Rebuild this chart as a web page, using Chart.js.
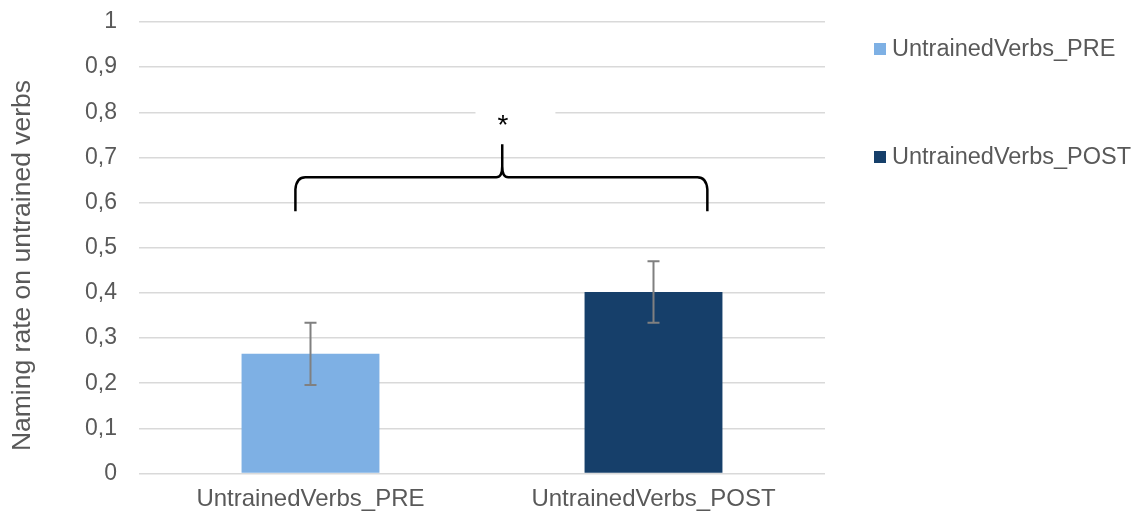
<!DOCTYPE html>
<html>
<head>
<meta charset="utf-8">
<script src="https://cdn.jsdelivr.net/npm/chart.js@4"></script>
<style>
  html, body { margin: 0; padding: 0; background: #fff; }
  #wrap { width: 1148px; height: 515px; }
</style>
</head>
<body>
<div id="wrap"><canvas id="chart"></canvas></div>
<script>
const categories = ["UntrainedVerbs_PRE", "UntrainedVerbs_POST"];
const values = [0.265, 0.402];
const errors = [0.069, 0.068];
const barColors = ["#7EB0E4", "#163F6A"];
const yTicks = [0, 0.1, 0.2, 0.3, 0.4, 0.5, 0.6, 0.7, 0.8, 0.9, 1];
const yTitle = "Naming rate on untrained verbs";

const FONT = "'Liberation Sans', Arial, sans-serif";
const TEXT = "#595959";

function formatTick(v) {
  return String(Math.round(v * 10) / 10).replace(".", ",");
}

// axis title, error bars, significance brace and the legend on the right
const extras = {
  id: "extras",
  beforeDatasetsDraw(chart) {
    const { ctx, scales: { x, y } } = chart;
    // white box behind the asterisk hides the gridlines
    const x0 = x.getPixelForValue(0.481);
    const x1 = x.getPixelForValue(0.714);
    const y0 = y.getPixelForValue(0.898);
    const y1 = y.getPixelForValue(0.716);
    ctx.save();
    ctx.fillStyle = "#fff";
    ctx.fillRect(x0, y0, x1 - x0, y1 - y0);
    ctx.restore();
  },
  afterDatasetsDraw(chart) {
    const { ctx, scales: { x, y } } = chart;
    ctx.save();

    // y axis title (sits a bit below the middle of the axis)
    ctx.save();
    ctx.translate(23, 265.5);
    ctx.rotate(-Math.PI / 2);
    ctx.font = "26.5px " + FONT;
    ctx.fillStyle = TEXT;
    ctx.textAlign = "center";
    ctx.textBaseline = "middle";
    ctx.fillText(yTitle, 0, 0);
    ctx.restore();

    // error bars
    ctx.strokeStyle = "#808080";
    ctx.lineWidth = 2;
    values.forEach((v, i) => {
      const px = x.getPixelForValue(i);
      const top = y.getPixelForValue(v + errors[i]);
      const bot = y.getPixelForValue(v - errors[i]);
      ctx.beginPath();
      ctx.moveTo(px, top);
      ctx.lineTo(px, bot);
      ctx.moveTo(px - 6, top);
      ctx.lineTo(px + 6, top);
      ctx.moveTo(px - 6, bot);
      ctx.lineTo(px + 6, bot);
      ctx.stroke();
    });

    // curly brace
    const xL = x.getPixelForValue(-0.044);
    const xR = x.getPixelForValue(1.157);
    const xC = x.getPixelForValue(0.559);
    const yBot = y.getPixelForValue(0.581);
    const yH = y.getPixelForValue(0.656);
    const yPeak = y.getPixelForValue(0.729);
    ctx.strokeStyle = "#000";
    ctx.lineWidth = 2.5;
    ctx.lineJoin = "round";
    ctx.beginPath();
    ctx.moveTo(xL, yBot);
    ctx.lineTo(xL, yH + 12);
    ctx.quadraticCurveTo(xL + 1, yH, xL + 10, yH);
    ctx.lineTo(xC - 6, yH);
    ctx.quadraticCurveTo(xC, yH, xC, yH - 11);
    ctx.lineTo(xC, yPeak);
    ctx.moveTo(xC, yH - 11);
    ctx.quadraticCurveTo(xC, yH, xC + 6, yH);
    ctx.lineTo(xR - 10, yH);
    ctx.quadraticCurveTo(xR - 1, yH, xR, yH + 12);
    ctx.lineTo(xR, yBot);
    ctx.stroke();

    // asterisk
    ctx.fillStyle = "#000";
    ctx.font = "28px " + FONT;
    ctx.textAlign = "center";
    ctx.textBaseline = "alphabetic";
    ctx.fillText("*", x.getPixelForValue(0.561), y.getPixelForValue(0.752));

    // legend
    ctx.font = "23.5px " + FONT;
    ctx.textAlign = "left";
    ctx.textBaseline = "middle";
    const legendY = [49, 157];
    categories.forEach((c, i) => {
      ctx.fillStyle = barColors[i];
      ctx.fillRect(874, legendY[i] - 6, 12, 12);
      ctx.fillStyle = TEXT;
      ctx.fillText(c, 892, legendY[i] + 1);
    });

    ctx.restore();
  },
};

new Chart(document.getElementById("chart"), {
  type: "bar",
  data: {
    labels: categories,
    datasets: [
      {
        data: values,
        backgroundColor: barColors,
        barPercentage: 0.402,
        categoryPercentage: 1,
      },
    ],
  },
  options: {
    responsive: true,
    maintainAspectRatio: false,
    animation: false,
    layout: { padding: { top: 22, right: 323, left: 0, bottom: 0 } },
    plugins: {
      legend: { display: false },
      tooltip: { enabled: false },
    },
    scales: {
      x: {
        grid: { display: false, drawTicks: false },
        border: { display: false },
        ticks: {
          color: TEXT,
          font: { family: FONT, size: 24 },
          padding: 11,
          maxRotation: 0,
        },
        afterFit(scale) {
          scale.height = 41.5;
          scale.paddingLeft = 0;
          scale.paddingRight = 0;
        },
      },
      y: {
        min: 0,
        max: 1,
        afterBuildTicks(scale) {
          scale.ticks = yTicks.map((v) => ({ value: v }));
        },
        grid: { color: "#d9d9d9", lineWidth: 1.5, drawTicks: false },
        border: { display: false },
        ticks: {
          color: TEXT,
          font: { family: FONT, size: 23 },
          padding: 22,
          callback: (v) => formatTick(v),
        },
        afterFit(scale) {
          scale.width = 139;
          scale.paddingTop = 0;
          scale.paddingBottom = 0;
        },
      },
    },
  },
  plugins: [extras],
});
</script>
</body>
</html>
